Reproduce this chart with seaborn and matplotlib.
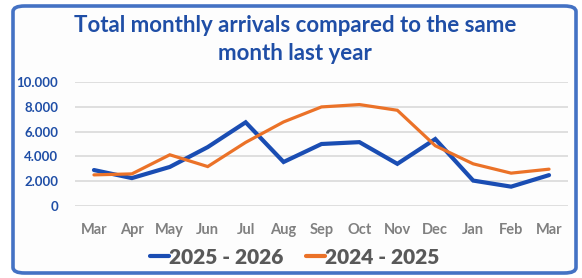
import seaborn as sns
import pandas as pd
import matplotlib.pyplot as plt
from matplotlib.patches import FancyBboxPatch
from matplotlib.ticker import FuncFormatter

# Meses (marzo a marzo)
meses = ['Mar', 'Apr', 'May', 'Jun', 'Jul', 'Aug', 'Sep', 'Oct', 'Nov', 'Dec', 'Jan', 'Feb', 'Mar']

# Llegadas mensuales por temporada
llegadas_2025_2026 = [2900, 2250, 3150, 4750, 6750, 3550, 5000, 5150, 3400, 5400, 2050, 1560, 2490]
llegadas_2024_2025 = [2510, 2590, 4130, 3180, 5130, 6780, 7990, 8180, 7720, 4860, 3400, 2650, 2970]

series = ['2025 - 2026', '2024 - 2025']
colores = {'2025 - 2026': '#1A4DB3', '2024 - 2025': '#EB7228'}
grosores = {'2025 - 2026': 3.0, '2024 - 2025': 2.3}

azul_texto = '#1F4EA6'
gris_texto = '#808080'


def construir_df():
    filas = []
    for i, mes in enumerate(meses):
        filas.append({'pos': i, 'Mes': mes, 'Serie': series[0], 'Llegadas': llegadas_2025_2026[i]})
        filas.append({'pos': i, 'Mes': mes, 'Serie': series[1], 'Llegadas': llegadas_2024_2025[i]})
    return pd.DataFrame(filas)


def main():
    sns.set_style('white')
    plt.rcParams['font.family'] = ['Lato', 'DejaVu Sans']

    df = construir_df()

    fig = plt.figure(figsize=(5.82, 2.78), dpi=100)
    fig.patch.set_facecolor('white')

    # Marco redondeado (detrás de todo)
    marco = FancyBboxPatch((13 / 582, 5 / 278), 563 / 582, 267 / 278,
                           boxstyle='round,pad=0,rounding_size=0.02',
                           transform=fig.transFigure, facecolor='#fdfdfd',
                           edgecolor='#4472C4', linewidth=2.6, zorder=-10)
    fig.patches.append(marco)

    ax = fig.add_axes([75 / 582, 1 - 206 / 278, 493 / 582, 124 / 278])
    ax.set_facecolor('none')
    ax.set_zorder(5)

    for serie in series:
        sub = df[df['Serie'] == serie]
        sns.lineplot(data=sub, x='pos', y='Llegadas', color=colores[serie],
                     linewidth=grosores[serie], label=serie, ax=ax,
                     solid_joinstyle='miter')

    ax.set_xlim(-0.5, len(meses) - 0.5)
    ax.set_ylim(0, 10000)
    ax.set_yticks(range(0, 10001, 2000))
    ax.yaxis.set_major_formatter(FuncFormatter(lambda v, p: f'{int(v):,}'.replace(',', '.')))
    ax.set_xticks(range(len(meses)))
    ax.set_xticklabels(meses)
    ax.grid(axis='y', color='#d9d9d9', linewidth=1.2)
    ax.set_axisbelow(True)
    for lado in ax.spines.values():
        lado.set_visible(False)
    ax.tick_params(axis='y', length=0, pad=12, labelsize=9.5, labelcolor=azul_texto)
    ax.tick_params(axis='x', length=0, pad=12, labelsize=10.5, labelcolor=gris_texto)
    for t in ax.get_yticklabels():
        t.set_fontweight('bold')
    for t in ax.get_xticklabels():
        t.set_fontweight('bold')
    ax.set_xlabel('')
    ax.set_ylabel('')

    fig.text(295 / 582, 1 - 25 / 278, 'Total monthly arrivals compared to the same',
             ha='center', va='center', fontsize=16, fontweight='bold', color=azul_texto)
    fig.text(295 / 582, 1 - 53 / 278, 'month last year',
             ha='center', va='center', fontsize=16, fontweight='bold', color=azul_texto)

    leyenda = ax.legend(loc='center', bbox_to_anchor=(295 / 582, 1 - 257 / 278),
                        bbox_transform=fig.transFigure, ncol=2, frameon=False,
                        handlelength=0.9, handletextpad=0.0, columnspacing=1.1,
                        prop={'size': 15, 'weight': 'heavy'})
    for t in leyenda.get_texts():
        t.set_color('#595959')
    for linea in leyenda.get_lines():
        linea.set_linewidth(3.0)

    plt.savefig('out.png', dpi=100)
    plt.close()


if __name__ == '__main__':
    main()
